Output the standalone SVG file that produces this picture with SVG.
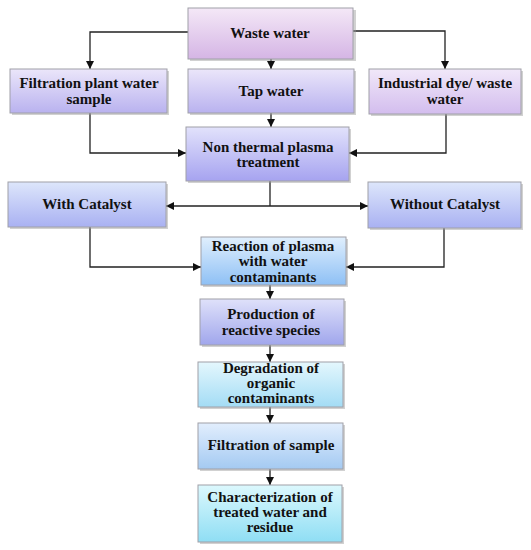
<svg xmlns="http://www.w3.org/2000/svg" width="531" height="550" viewBox="0 0 531 550">
<defs>
<linearGradient id="gPink" x1="0" y1="0" x2="0" y2="1"><stop offset="0" stop-color="#f4e8f7"/><stop offset="1" stop-color="#d5b5e5"/></linearGradient>
<linearGradient id="gLav" x1="0" y1="0" x2="0" y2="1"><stop offset="0" stop-color="#ebe6fa"/><stop offset="1" stop-color="#b9b2ef"/></linearGradient>
<linearGradient id="gInd" x1="0" y1="0" x2="0" y2="1"><stop offset="0" stop-color="#f1e8f9"/><stop offset="1" stop-color="#d3bdee"/></linearGradient>
<linearGradient id="gBlu" x1="0" y1="0" x2="0" y2="1"><stop offset="0" stop-color="#e2e2fb"/><stop offset="1" stop-color="#a6a3f0"/></linearGradient>
<linearGradient id="gCat" x1="0" y1="0" x2="0" y2="1"><stop offset="0" stop-color="#dde6fb"/><stop offset="1" stop-color="#a9b1f2"/></linearGradient>
<linearGradient id="gSky" x1="0" y1="0" x2="0" y2="1"><stop offset="0" stop-color="#e0effd"/><stop offset="1" stop-color="#8ec0f5"/></linearGradient>
<linearGradient id="gProd" x1="0" y1="0" x2="0" y2="1"><stop offset="0" stop-color="#dfe1fa"/><stop offset="1" stop-color="#a0a6ec"/></linearGradient>
<linearGradient id="gCyan" x1="0" y1="0" x2="0" y2="1"><stop offset="0" stop-color="#e4f7fd"/><stop offset="1" stop-color="#a3dcf5"/></linearGradient>
<linearGradient id="gFs" x1="0" y1="0" x2="0" y2="1"><stop offset="0" stop-color="#e2eefd"/><stop offset="1" stop-color="#a4caf2"/></linearGradient>
<linearGradient id="gChar" x1="0" y1="0" x2="0" y2="1"><stop offset="0" stop-color="#dcf8fd"/><stop offset="1" stop-color="#8fdef4"/></linearGradient>
<marker id="ah" viewBox="0 0 10 10" refX="10" refY="5" markerWidth="8" markerHeight="8" markerUnits="userSpaceOnUse" orient="auto"><path d="M0,0 L10,5 L0,10 z" fill="#111"/></marker>
</defs>
<style>
.box{stroke:#a0a0a8;stroke-width:1}
.sh{fill:#9a9a9a;opacity:0.45}
text{font-family:"Liberation Serif","Times New Roman",serif;font-weight:bold;font-size:15px;fill:#111;text-anchor:middle;dominant-baseline:central}
.c{fill:none;stroke:#222;stroke-width:1.3;marker-end:url(#ah)}
.l{fill:none;stroke:#222;stroke-width:1.3}
</style>
<rect width="531" height="550" fill="#fff"/>
<g id="connectors">
<path class="c" d="M188,32 H90 V69"/>
<path class="c" d="M353,31 H445 V69"/>
<path class="c" d="M271,59 V69"/>
<path class="c" d="M271,113 V127"/>
<path class="c" d="M90,113 V153 H186"/>
<path class="c" d="M446,114 V153 H349"/>
<path class="l" d="M270,181 V206"/>
<path class="c" d="M270,206 H166"/>
<path class="c" d="M270,206 H368"/>
<path class="c" d="M90,227 V267 H201"/>
<path class="c" d="M444,228 V267 H346"/>
<path class="c" d="M270,285 V299"/>
<path class="c" d="M270,345 V362"/>
<path class="c" d="M270,407 V423"/>
<path class="c" d="M270,469 V485"/>
</g>
<g id="n-waste">
<rect class="sh" x="190" y="10" width="166" height="51"/>
<rect class="box" x="188" y="8" width="165" height="51" fill="url(#gPink)"/>
<text x="270" y="33">Waste water</text>
</g>
<g id="n-filtration-plant">
<rect class="sh" x="12" y="71" width="157" height="44"/>
<rect class="box" x="10" y="69" width="157" height="44" fill="url(#gLav)"/>
<text x="89" y="83">Filtration plant water</text>
<text x="89" y="99">sample</text>
</g>
<g id="n-tap">
<rect class="sh" x="190" y="71" width="166" height="44"/>
<rect class="box" x="188" y="69" width="166" height="44" fill="url(#gLav)"/>
<text x="271" y="91">Tap water</text>
</g>
<g id="n-industrial">
<rect class="sh" x="371" y="71" width="152" height="45"/>
<rect class="box" x="369" y="69" width="152" height="45" fill="url(#gInd)"/>
<text x="445" y="83">Industrial dye/ waste</text>
<text x="445" y="99">water</text>
</g>
<g id="n-nonthermal">
<rect class="sh" x="188" y="129" width="163" height="54"/>
<rect class="box" x="186" y="127" width="163" height="54" fill="url(#gBlu)"/>
<text x="268" y="147">Non thermal plasma</text>
<text x="268" y="162">treatment</text>
</g>
<g id="n-with">
<rect class="sh" x="10" y="184" width="158" height="45"/>
<rect class="box" x="8" y="182" width="158" height="45" fill="url(#gCat)"/>
<text x="87" y="204">With Catalyst</text>
</g>
<g id="n-without">
<rect class="sh" x="370" y="184" width="153" height="46"/>
<rect class="box" x="368" y="182" width="153" height="46" fill="url(#gCat)"/>
<text x="445" y="204">Without Catalyst</text>
</g>
<g id="n-reaction">
<rect class="sh" x="203" y="239" width="145" height="48"/>
<rect class="box" x="201" y="237" width="145" height="48" fill="url(#gSky)"/>
<text x="273" y="246">Reaction of plasma</text>
<text x="273" y="261">with water</text>
<text x="273" y="277">contaminants</text>
</g>
<g id="n-production">
<rect class="sh" x="202" y="301" width="144" height="46"/>
<rect class="box" x="200" y="299" width="144" height="46" fill="url(#gProd)"/>
<text x="271" y="314">Production of</text>
<text x="271" y="330">reactive species</text>
</g>
<g id="n-degradation">
<rect class="sh" x="200" y="364" width="145" height="45"/>
<rect class="box" x="198" y="362" width="145" height="45" fill="url(#gCyan)"/>
<text x="271" y="368">Degradation of</text>
<text x="271" y="383">organic</text>
<text x="271" y="398">contaminants</text>
</g>
<g id="n-filtration-sample">
<rect class="sh" x="200" y="425" width="145" height="46"/>
<rect class="box" x="198" y="423" width="145" height="46" fill="url(#gFs)"/>
<text x="271" y="445">Filtration of sample</text>
</g>
<g id="n-characterization">
<rect class="sh" x="200" y="487" width="144" height="57"/>
<rect class="box" x="198" y="485" width="144" height="57" fill="url(#gChar)"/>
<text x="270" y="497">Characterization of</text>
<text x="270" y="512">treated water and</text>
<text x="270" y="527">residue</text>
</g>
</svg>
